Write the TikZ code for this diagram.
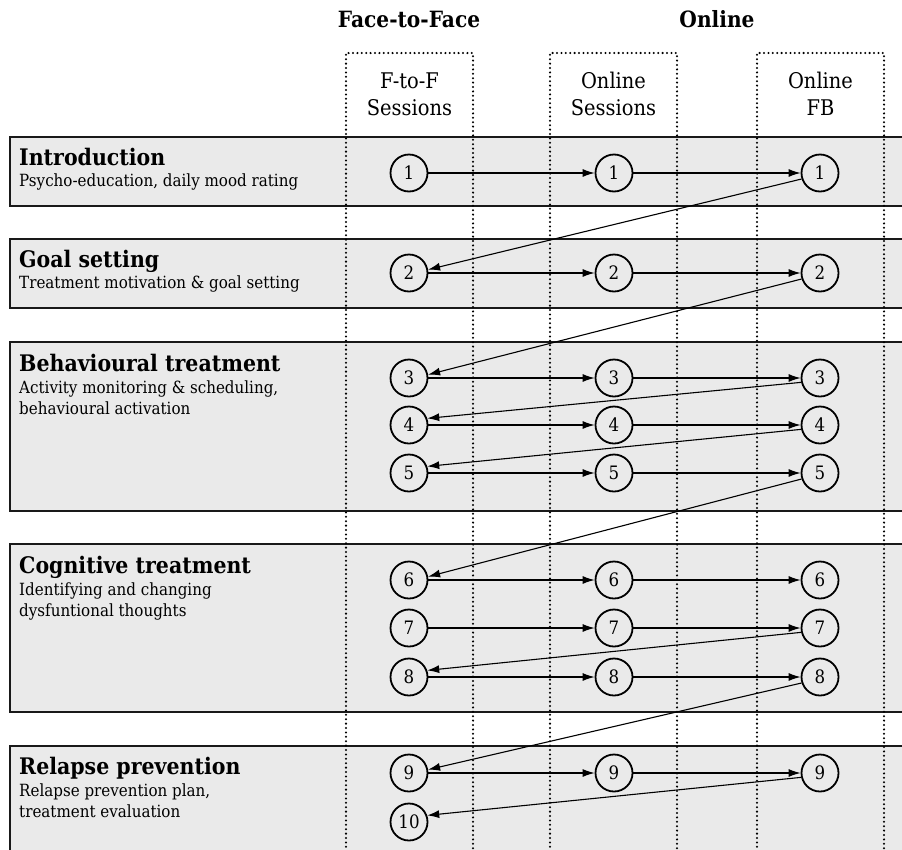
\documentclass[tikz,border=0pt]{standalone}
\usepackage{fontspec}
\setmainfont{DejaVu Serif}[FakeStretch=0.9]
\usetikzlibrary{arrows.meta}
\definecolor{boxgray}{HTML}{EAEAEA}
\tikzset{
  phase/.style={draw=black!90, line width=2.3pt, fill=boxgray},
  dotline/.style={line width=2.3pt, line cap=round, dash pattern=on 0pt off 4.4pt},
  num/.style={circle, draw=black, line width=1.8pt, minimum size=37pt, inner sep=0pt, font=\fontsize{18.5}{22}\selectfont},
  arr/.style={line width=1.1pt, -{Latex[length=12pt,width=8pt]}},
  head/.style={inner sep=0pt, anchor=base, font=\fontsize{22.4}{26}\selectfont\bfseries},
  colhead/.style={inner sep=0pt, anchor=base, font=\fontsize{21.6}{26}\selectfont},
  title/.style={inner sep=0pt, anchor=base west, font=\fontsize{22.8}{27}\selectfont\bfseries},
  sub/.style={inner sep=0pt, anchor=base west, font=\fontsize{16.8}{20}\selectfont},
}
\begin{document}
\begin{tikzpicture}[x=1pt,y=-1pt]
\clip (0,0) rectangle (902,849);
\fill[white] (0,0) rectangle (902,849);
% phase boxes
\draw[phase] (10,137) rectangle (915,206);
\draw[phase] (10,239) rectangle (915,308);
\draw[phase] (10,342) rectangle (915,511);
\draw[phase] (10,544) rectangle (915,712);
\draw[phase] (10,746) rectangle (915,880);
% dotted column frames
\draw[dotline] (346,860) -- (346,53) -- (473,53) -- (473,860);
\draw[dotline] (550,860) -- (550,53) -- (677,53) -- (677,860);
\draw[dotline] (757,860) -- (757,53) -- (884,53) -- (884,860);
% headers
\node[head] (hF) at (409,27) {Face-to-Face};
\node[head] (hO) at (717,27) {Online};
\node[colhead] (ca1) at (409.5,88) {F-to-F};
\node[colhead] (ca2) at (409.5,115) {Sessions};
\node[colhead] (cb1) at (613.5,88) {Online};
\node[colhead] (cb2) at (613.5,115) {Sessions};
\node[colhead] (cc1) at (820.5,88) {Online};
\node[colhead] (cc2) at (820.5,115) {FB};
% phase texts
\node[title] (t1) at (19,165) {Introduction};
\node[sub] (s1) at (19,186) {Psycho-education, daily mood rating};
\node[title] (t2) at (19,267) {Goal setting};
\node[sub] (s2) at (19,288) {Treatment motivation \& goal setting};
\node[title] (t3) at (19,371) {Behavioural treatment};
\node[sub] (s3a) at (19,393) {Activity monitoring \& scheduling,};
\node[sub] (s3b) at (19,414) {behavioural activation};
\node[title] (t4) at (19,573) {Cognitive treatment};
\node[sub] (s4a) at (19,595) {Identifying and changing};
\node[sub] (s4b) at (19,616) {dysfuntional thoughts};
\node[title] (t5) at (19,774) {Relapse prevention};
\node[sub] (s5a) at (19,796) {Relapse prevention plan,};
\node[sub] (s5b) at (19,817) {treatment evaluation};
% session circles
\foreach \i/\y in {1/173,2/273,3/378,4/425,5/473,6/580,7/628,8/677,9/773} {
  \node[num] (a\i) at (409,\y) {\i};
  \node[num] (b\i) at (614,\y) {\i};
  \node[num] (c\i) at (820,\y) {\i};
}
\node[num] (a10) at (409,822) {10};
% connectors
\foreach \i in {1,...,9} {
  \draw[arr] (a\i) -- (b\i);
  \draw[arr] (b\i) -- (c\i);
}
\foreach \i/\j in {1/2,2/3,5/6,8/9} {
  \draw[arr] (c\i.198) -- (a\j.10);
}
\foreach \i/\j in {3/4,4/5,7/8,9/10} {
  \draw[arr] (c\i.193) -- (a\j.20);
}
\end{tikzpicture}
\end{document}
